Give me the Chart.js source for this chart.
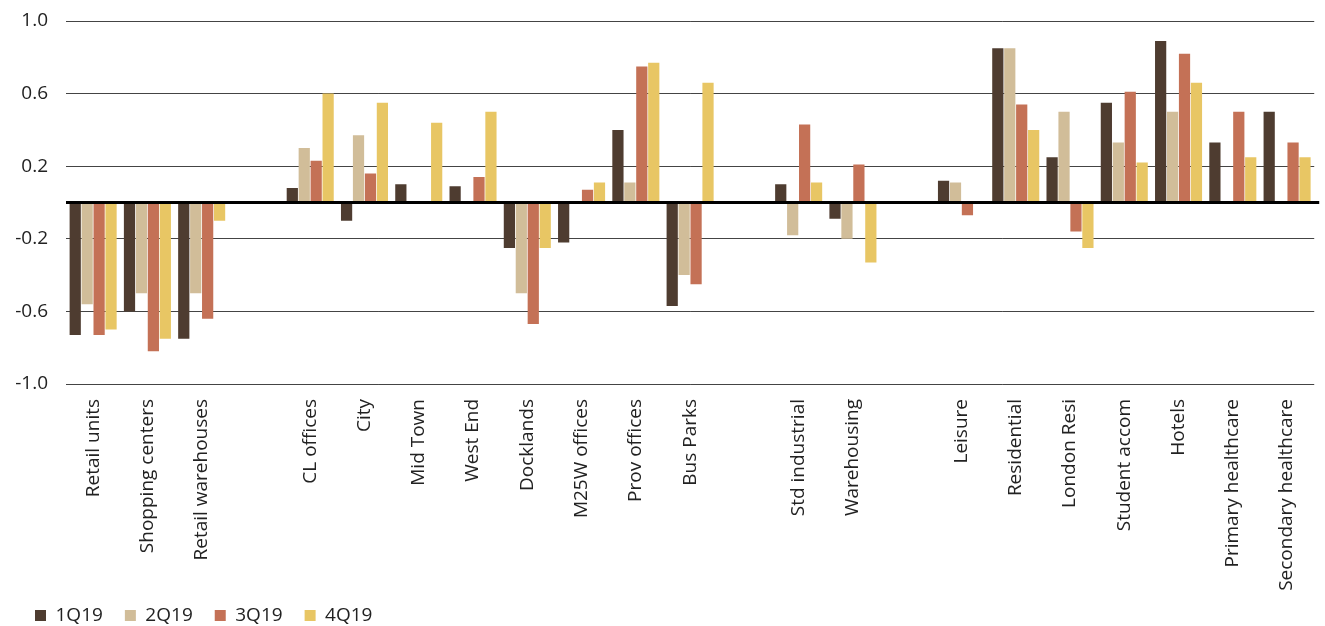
<!DOCTYPE html>
<html>
<head>
<meta charset="utf-8">
<script src="https://cdn.jsdelivr.net/npm/chart.js@4"></script>
<style>
  html, body { margin: 0; padding: 0; background: #fff; }
  #wrap { width: 1325px; height: 626px; position: relative; }
</style>
</head>
<body>
<div id="wrap"><canvas id="chart"></canvas></div>
<script>
// categories ('' = spacer slot between sector groups)
const categories = [
  'Retail units', 'Shopping centers', 'Retail warehouses', '',
  'CL offices', 'City', 'Mid Town', 'West End', 'Docklands', 'M25W offices', 'Prov offices', 'Bus Parks', '',
  'Std industrial', 'Warehousing', '',
  'Leisure', 'Residential', 'London Resi', 'Student accom', 'Hotels', 'Primary healthcare', 'Secondary healthcare'
];

const q1 = [-0.73, -0.60, -0.75, null, 0.08, -0.10, 0.10, 0.09, -0.25, -0.22, 0.40, -0.57, null, 0.10, -0.09, null, 0.12, 0.85, 0.25, 0.55, 0.89, 0.33, 0.50];
const q2 = [-0.56, -0.50, -0.50, null, 0.30, 0.37, null, null, -0.50, null, 0.11, -0.40, null, -0.18, -0.20, null, 0.11, 0.85, 0.50, 0.33, 0.50, null, null];
const q3 = [-0.73, -0.82, -0.64, null, 0.23, 0.16, null, 0.14, -0.67, 0.07, 0.75, -0.45, null, 0.43, 0.21, null, -0.07, 0.54, -0.16, 0.61, 0.82, 0.50, 0.33];
const q4 = [-0.70, -0.75, -0.10, null, 0.60, 0.55, 0.44, 0.50, -0.25, 0.11, 0.77, 0.66, null, 0.11, -0.33, null, null, 0.40, -0.25, 0.22, 0.66, 0.25, 0.25];

const seriesNames = ['1Q19', '2Q19', '3Q19', '4Q19'];
const seriesColors = ['#4e3c30', '#d1bd99', '#c47156', '#e8c664'];

const yTicks = [-1.0, -0.6, -0.2, 0.2, 0.6, 1.0];

// ===============================
// Zero line drawn over the bars
// ===============================
const zeroLine = {
  id: 'zeroLine',
  afterDatasetsDraw(chart) {
    const { ctx, chartArea, scales } = chart;
    const y = scales.y.getPixelForValue(0);
    ctx.save();
    ctx.strokeStyle = '#000';
    ctx.lineWidth = 3;
    ctx.beginPath();
    ctx.moveTo(chartArea.left, y);
    ctx.lineTo(chartArea.right + 5, y);
    ctx.stroke();
    ctx.restore();
  }
};

// nudge the legend after layout
const legendShift = {
  id: 'legendShift',
  afterLayout(chart) {
    const lg = chart.legend;
    if (!lg) return;
    lg.left += 13; lg.right += 13;
    lg.top -= 14; lg.bottom -= 14;
  }
};

const font = "'Open Sans', sans-serif";

new Chart(document.getElementById('chart'), {
  type: 'bar',
  data: {
    labels: categories,
    datasets: [q1, q2, q3, q4].map((d, i) => ({
      label: seriesNames[i],
      data: d,
      backgroundColor: seriesColors[i],
      categoryPercentage: 0.88,
      barPercentage: 0.94
    }))
  },
  options: {
    responsive: true,
    maintainAspectRatio: false,
    animation: false,
    layout: { padding: { left: 0, right: 5, top: 21, bottom: -23 } },
    plugins: {
      legend: {
        position: 'bottom',
        align: 'start',
        labels: {
          boxWidth: 11,
          boxHeight: 11,
          padding: 22,
          color: '#222',
          font: { family: font, size: 19 }
        }
      },
      tooltip: { enabled: false }
    },
    scales: {
      y: {
        min: -1,
        max: 1,
        afterBuildTicks: (axis) => { axis.ticks = yTicks.map(v => ({ value: v })); },
        afterFit: (axis) => { axis.width = 66; axis.paddingTop = 0; axis.paddingBottom = 0; },
        grid: { color: '#444', lineWidth: 1, drawTicks: false },
        border: { display: false },
        ticks: {
          padding: 18,
          color: '#222',
          font: { family: font, size: 19 },
          callback: (v) => v.toFixed(1)
        }
      },
      x: {
        afterFit: (axis) => { axis.height = 214; },
        grid: { display: false, drawTicks: false },
        border: { display: false },
        ticks: {
          autoSkip: false,
          minRotation: 90,
          maxRotation: 90,
          padding: 15,
          color: '#222',
          font: { family: font, size: 19 }
        }
      }
    }
  },
  plugins: [zeroLine, legendShift]
});
</script>
</body>
</html>
